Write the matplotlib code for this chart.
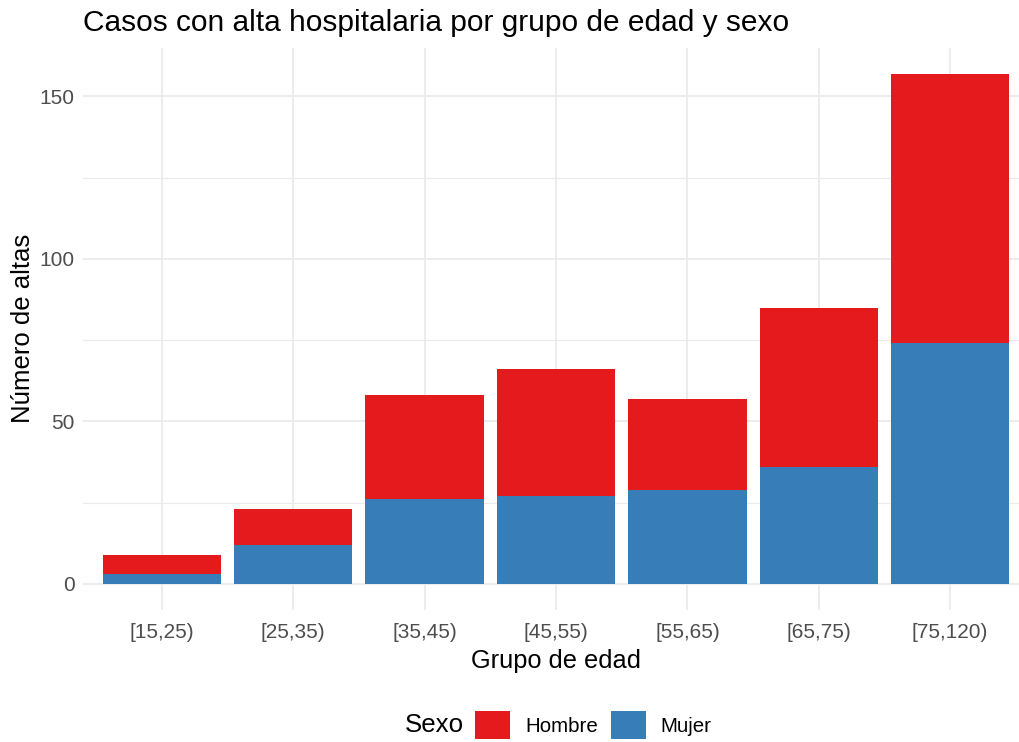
import matplotlib
matplotlib.use("Agg")
import matplotlib.pyplot as plt
from matplotlib.patches import Patch
import numpy as np

categories = ["[15,25)", "[25,35)", "[35,45)", "[45,55)", "[55,65)", "[65,75)", "[75,120)"]
mujer = [3, 12, 26, 27, 29, 36, 74]
hombre = [6, 11, 32, 39, 28, 49, 83]

plt.rcParams['font.family'] = ['Liberation Sans', 'DejaVu Sans']

RED = "#E41A1C"
BLUE = "#377EB8"
GRID = "#EBEBEB"

fig = plt.figure(figsize=(10.19, 7.42), dpi=100)
ax = fig.add_axes([83/1019, 1 - 609.5/742, 946/1019, (609.5 - 48)/742])

x = np.arange(len(categories))
ax.bar(x, mujer, width=0.9, color=BLUE, zorder=3, linewidth=0)
ax.bar(x, hombre, bottom=mujer, width=0.9, color=RED, zorder=3, linewidth=0)

totals = np.array(mujer) + np.array(hombre)
ymax = totals.max()
ax.set_ylim(-0.05 * ymax, ymax * 1.05)
ax.set_xlim(-0.6, len(categories) - 0.4)

ax.set_yticks([0, 50, 100, 150])
ax.set_yticks([25, 75, 125], minor=True)
ax.set_xticks(x)
ax.set_xticklabels(categories)

ax.grid(True, which='major', color=GRID, linewidth=1.3, zorder=0)
ax.grid(True, which='minor', axis='y', color=GRID, linewidth=0.8, zorder=0)
ax.set_axisbelow(True)
for s in ax.spines.values():
    s.set_visible(False)
ax.tick_params(axis='both', which='both', length=0, labelsize=15, labelcolor="#4D4D4D")
ax.tick_params(axis='x', pad=10)
ax.tick_params(axis='y', pad=6)

ax.set_xlabel("Grupo de edad", fontsize=18.3, color="black", labelpad=5)
ax.set_ylabel("Número de altas", fontsize=18.5, color="black", labelpad=3)

fig.text(83/1019, 1 - 31/742, "Casos con alta hospitalaria por grupo de edad y sexo",
         fontsize=21.5, ha='left', va='baseline', color="black")

fig.text(405/1019, 1 - 725/742, "Sexo", fontsize=18.6, ha='left', va='center')
handles = [Patch(facecolor=RED, edgecolor='none', label="Hombre"),
           Patch(facecolor=BLUE, edgecolor='none', label="Mujer")]
fig.legend(handles=handles, loc='center left', bbox_to_anchor=(475/1019, 1 - 725/742),
           ncol=2, frameon=False, fontsize=14.8, handlelength=1.7, handleheight=1.7,
           handletextpad=0.73, columnspacing=0.63, borderpad=0, borderaxespad=0)

fig.savefig("out.png", dpi=100, facecolor="white")
